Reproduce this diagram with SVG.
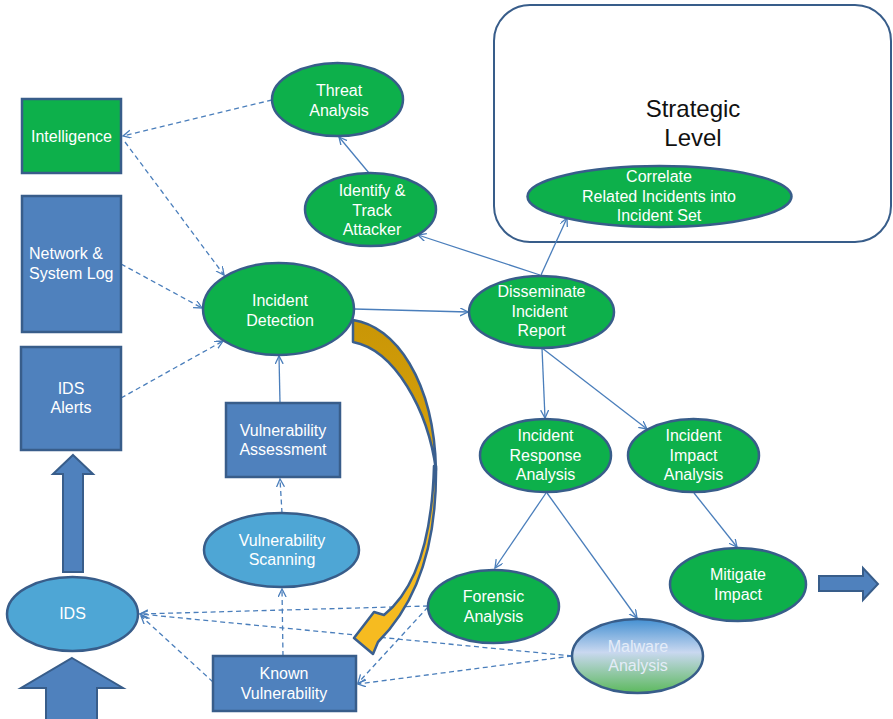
<svg xmlns="http://www.w3.org/2000/svg" width="893" height="719" viewBox="0 0 893 719">
  <defs>
    <marker id="arr" markerUnits="userSpaceOnUse" markerWidth="10" markerHeight="10" refX="8" refY="4" orient="auto">
      <path d="M0,0 L8,4 L0,8" fill="none" stroke="#4A7EBB" stroke-width="1.3"/>
    </marker>
    <linearGradient id="malware" x1="0" y1="0" x2="0" y2="1">
      <stop offset="0" stop-color="#4490D2"/>
      <stop offset="0.45" stop-color="#C9D8F0"/>
      <stop offset="1" stop-color="#5CB95D"/>
    </linearGradient>
    <linearGradient id="gold" x1="0" y1="0" x2="0" y2="1">
      <stop offset="0" stop-color="#C99606"/>
      <stop offset="1" stop-color="#D9A20C"/>
    </linearGradient>
  </defs>
  <style>
    .green { fill: #0DB04B; stroke: #385D8A; stroke-width: 2.5; }
    .box { fill: #4F81BD; stroke: #385D8A; stroke-width: 2.5; }
    .sky { fill: #4EA6D5; stroke: #385D8A; stroke-width: 2.5; }
    .blk { fill: #4F81BD; stroke: #385D8A; stroke-width: 2; }
    .lbl { font-family: "Liberation Sans", Arial, sans-serif; font-size: 16px; fill: #FFFFFF; text-anchor: middle; }
    .big { font-family: "Liberation Sans", Arial, sans-serif; font-size: 24px; fill: #111111; text-anchor: middle; }
    .solid { fill: none; stroke: #4A7EBB; stroke-width: 1.3; marker-end: url(#arr); }
    .dash { fill: none; stroke: #4A7EBB; stroke-width: 1.3; stroke-dasharray: 5 3.5; marker-end: url(#arr); }
  </style>

  <!-- strategic level frame -->
  <g id="strategic-level">
    <rect x="494" y="5" width="397" height="237" rx="36" fill="#FFFFFF" stroke="#385D8A" stroke-width="2"/>
    <text class="big" x="693" y="117">Strategic</text>
    <text class="big" x="693" y="146">Level</text>
  </g>

  <!-- connectors -->
  <g id="connectors">
    <line class="dash" x1="272" y1="100" x2="123" y2="136"/>
    <line class="dash" x1="125" y1="142" x2="224" y2="275"/>
    <line class="dash" x1="121" y1="264" x2="202" y2="308"/>
    <line class="dash" x1="121" y1="398" x2="223" y2="341"/>
    <line class="dash" x1="283" y1="656" x2="282" y2="589"/>
    <line class="dash" x1="282" y1="513" x2="280" y2="479"/>
    <line class="dash" x1="428" y1="606" x2="140" y2="614"/>
    <line class="dash" x1="572" y1="656" x2="140" y2="614"/>
    <line class="dash" x1="213" y1="682" x2="141" y2="616"/>
    <line class="dash" x1="428" y1="607" x2="358" y2="683" marker-start="url(#arr)"/>
    <line class="dash" x1="572" y1="656" x2="358" y2="684"/>

    <line class="solid" x1="280" y1="403" x2="279" y2="356"/>
    <line class="solid" x1="354" y1="309" x2="468" y2="312"/>
    <line class="solid" x1="369" y1="173" x2="339" y2="137"/>
    <line class="solid" x1="540" y1="275" x2="418" y2="235"/>
    <line class="solid" x1="541" y1="275" x2="567" y2="218"/>
    <line class="solid" x1="542" y1="348" x2="545" y2="418"/>
    <line class="solid" x1="542" y1="348" x2="647" y2="429"/>
    <line class="solid" x1="546" y1="493" x2="495" y2="568"/>
    <line class="solid" x1="547" y1="493" x2="637" y2="618"/>
    <line class="solid" x1="694" y1="493" x2="737" y2="547"/>
  </g>

  <!-- sources on the left -->
  <g id="intelligence">
    <rect class="green" x="22" y="99" width="99" height="74"/>
    <text class="lbl" x="71.5" y="142">Intelligence</text>
  </g>
  <g id="network-system-log">
    <rect class="box" x="22" y="196" width="99" height="136"/>
    <text class="lbl" x="29" y="259" text-anchor="start" style="text-anchor:start">Network &amp;</text>
    <text class="lbl" x="29" y="279" style="text-anchor:start">System Log</text>
  </g>
  <g id="ids-alerts">
    <rect class="box" x="21" y="347" width="100" height="103"/>
    <text class="lbl" x="71" y="394">IDS</text>
    <text class="lbl" x="71" y="413">Alerts</text>
  </g>
  <g id="ids">
    <ellipse class="sky" cx="72.5" cy="614" rx="65.5" ry="37"/>
    <text class="lbl" x="72.5" y="619">IDS</text>
  </g>

  <!-- block arrows -->
  <g id="arrow-ids-up">
    <polygon class="blk" points="73,455 93,474 83,474 83,572 63,572 63,474 53,474"/>
  </g>
  <g id="arrow-feed-up">
    <polygon class="blk" points="72,658 123,688 97,688 97,722 46,722 46,688 21,688"/>
  </g>
  <g id="arrow-out-right">
    <polygon class="blk" points="819,576 863,576 863,568 878,584 863,600 863,591 819,591"/>
  </g>

  <!-- tactical analysis nodes -->
  <g id="threat-analysis">
    <ellipse class="green" cx="337.5" cy="99.5" rx="65.5" ry="36.5"/>
    <text class="lbl" x="339" y="96">Threat</text>
    <text class="lbl" x="339" y="116">Analysis</text>
  </g>
  <g id="identify-track-attacker">
    <ellipse class="green" cx="370.5" cy="209.5" rx="65.5" ry="36.5"/>
    <text class="lbl" x="372" y="196">Identify &amp;</text>
    <text class="lbl" x="372" y="215.5">Track</text>
    <text class="lbl" x="372" y="235">Attacker</text>
  </g>
  <g id="incident-detection">
    <ellipse class="green" cx="278.5" cy="309" rx="75.5" ry="46"/>
    <text class="lbl" x="280" y="306">Incident</text>
    <text class="lbl" x="280" y="326">Detection</text>
  </g>
  <g id="disseminate-incident-report">
    <ellipse class="green" cx="541.5" cy="312" rx="72.5" ry="36"/>
    <text class="lbl" x="541.5" y="297">Disseminate</text>
    <text class="lbl" x="539.5" y="316.5">Incident</text>
    <text class="lbl" x="541.5" y="336">Report</text>
  </g>
  <g id="correlate-incidents">
    <ellipse class="green" cx="659.5" cy="196.5" rx="132" ry="30.5"/>
    <text class="lbl" x="659" y="182">Correlate</text>
    <text class="lbl" x="659" y="201.5">Related Incidents into</text>
    <text class="lbl" x="659" y="221">Incident Set</text>
  </g>
  <g id="vulnerability-assessment">
    <rect class="box" x="226" y="403" width="114" height="74"/>
    <text class="lbl" x="283" y="436">Vulnerability</text>
    <text class="lbl" x="283" y="455">Assessment</text>
  </g>
  <g id="vulnerability-scanning">
    <ellipse class="sky" cx="281.5" cy="550" rx="77.5" ry="37"/>
    <text class="lbl" x="282" y="546">Vulnerability</text>
    <text class="lbl" x="282" y="565">Scanning</text>
  </g>
  <g id="known-vulnerability">
    <rect class="box" x="213" y="656" width="143" height="55"/>
    <text class="lbl" x="284" y="679">Known</text>
    <text class="lbl" x="284" y="699">Vulnerability</text>
  </g>
  <g id="incident-response-analysis">
    <ellipse class="green" cx="545.5" cy="455.5" rx="65.5" ry="36.5"/>
    <text class="lbl" x="545.5" y="441">Incident</text>
    <text class="lbl" x="545.5" y="461">Response</text>
    <text class="lbl" x="545.5" y="480">Analysis</text>
  </g>
  <g id="incident-impact-analysis">
    <ellipse class="green" cx="693.5" cy="455.5" rx="65.5" ry="36.5"/>
    <text class="lbl" x="693.5" y="441">Incident</text>
    <text class="lbl" x="693.5" y="461">Impact</text>
    <text class="lbl" x="693.5" y="480">Analysis</text>
  </g>
  <g id="forensic-analysis">
    <ellipse class="green" cx="493.5" cy="606.5" rx="65.5" ry="36.5"/>
    <text class="lbl" x="493.5" y="601.5">Forensic</text>
    <text class="lbl" x="493.5" y="621.5">Analysis</text>
  </g>
  <g id="malware-analysis">
    <ellipse cx="637.5" cy="656" rx="65.5" ry="37" fill="url(#malware)" stroke="#385D8A" stroke-width="2.5"/>
    <text class="lbl" x="638" y="651.5" style="fill:#E4ECF8">Malware</text>
    <text class="lbl" x="638" y="671" style="fill:#E4ECF8">Analysis</text>
  </g>
  <g id="mitigate-impact">
    <ellipse class="green" cx="738" cy="584.5" rx="68" ry="36.5"/>
    <text class="lbl" x="738" y="580">Mitigate</text>
    <text class="lbl" x="738" y="600">Impact</text>
  </g>

  <!-- curved feedback arrow from detection down to known vulnerability -->
  <g id="feedback-arrow" stroke="#3A5F8F" stroke-width="2.5" stroke-linejoin="round">
    <path d="M353,320 C395,326 434,380 436,470 C428,410 395,350 353,342 Z" fill="url(#gold)"/>
    <path d="M436,466 C437,540 420,600 378,642 L373,654 L354,638 L374,612 L384,615 C415,590 432,540 434,466 Z" fill="#F6BB20"/>
  </g>
</svg>
